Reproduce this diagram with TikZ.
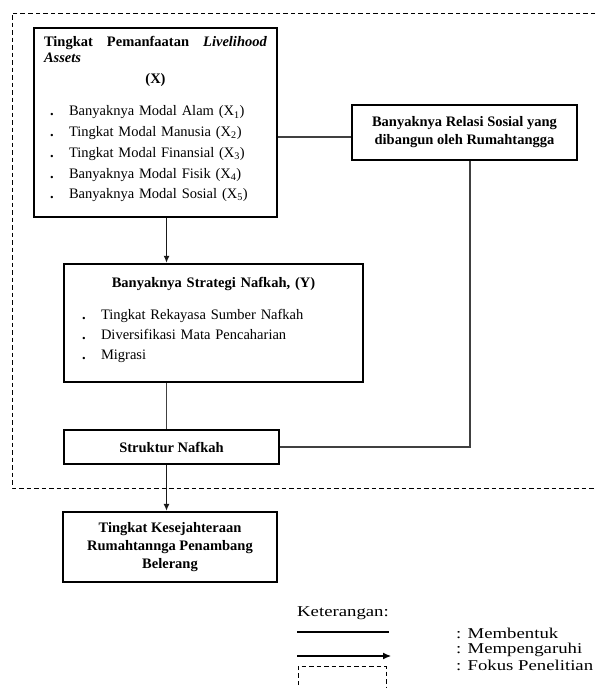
\documentclass[tikz,border=0pt]{standalone}
\usepackage{fontspec}
\setmainfont{Liberation Serif}
\newfontfamily\legendfont[FakeStretch=1.25]{Liberation Serif}
\usetikzlibrary{arrows.meta,positioning}
\setlength{\parindent}{0pt}

% one dotted entry inside a variable box
\newcommand{\butir}[2][6pt]{\par\hspace*{#1}\makebox[19pt][l]{\textbf{.}}#2}

\tikzset{
  varbox/.style={draw, line width=2.4pt, inner sep=0pt},
  boldtext/.style={align=center, font=\fontsize{14.5}{18}\selectfont\bfseries},
  link/.style={line width=1.2pt, black!75},
  arr/.style={line width=1.2pt, black!90, -{Latex[length=7pt,width=6pt]}},
  focus/.style={line width=1pt, dash pattern=on 4.5pt off 3pt},
  legendtext/.style={anchor=west, inner sep=0pt, font=\legendfont\fontsize{15}{15}\selectfont}
}

\begin{document}
\begin{tikzpicture}[x=1pt,y=-1pt,font=\fontsize{14.5}{18}\selectfont]
\useasboundingbox (0,0) rectangle (596,688);
\clip (0,0) rectangle (596,688);

% research focus
\draw[focus] (610,13) -| (12,488) -- (610,488);

\node[varbox, minimum width=243pt, minimum height=189pt, text width=223pt](x) at (155.5,122.5){%
\fontsize{14.5}{16}\selectfont
\textbf{Tingkat\hfill Pemanfaatan\hfill \textit{Livelihood}}\\
\textbf{\textit{Assets}}\par
\vspace{5pt}
{\centering\textbf{(X)}\par}
\vspace{12pt}
\fontsize{14.5}{20.7}\selectfont
\butir{Banyaknya Modal Alam (X\textsubscript{1})}
\butir{Tingkat Modal Manusia (X\textsubscript{2})}
\butir{Tingkat Modal Finansial (X\textsubscript{3})}
\butir{Banyaknya Modal Fisik (X\textsubscript{4})}
\butir{Banyaknya Modal Sosial (X\textsubscript{5})}\par
\vspace{7pt}\hrule height 0pt};
\node[varbox, boldtext, minimum width=225pt, minimum height=55pt](relasi) at (464.5,132.5){Banyaknya Relasi Sosial yang\\dibangun oleh Rumahtangga};
\node[varbox, minimum width=299pt, minimum height=118pt, text width=279pt](y) at (213.5,323){%
{\centering\textbf{Banyaknya Strategi Nafkah, (Y)}\par}
\vspace{12pt}
\fontsize{14.5}{20}\selectfont
\butir[8pt]{Tingkat Rekayasa Sumber Nafkah}
\butir[8pt]{Diversifikasi Mata Pencaharian}
\butir[8pt]{Migrasi}\par
\vspace{7pt}\hrule height 0pt};
\node[varbox, boldtext, minimum width=215pt, minimum height=34pt](struktur) at (171.5,447){Struktur Nafkah};
\node[varbox, boldtext, minimum width=214pt, minimum height=70pt](sejahtera) at (170,547){Tingkat Kesejahteraan\\Rumahtannga Penambang\\Belerang};

\coordinate (spine) at (166.5,0);
\draw[arr] (x.south -| spine) -- (y.north -| spine);
\draw[link] (y.south -| spine) -- (struktur.north -| spine);
\draw[arr] (struktur.south -| spine) -- (sejahtera.north -| spine);
\draw[link] ([yshift=-4.5pt]relasi.west) -- ([yshift=-4.5pt]relasi.west -| x.east);
\draw[link] ([xshift=5.5pt]relasi.south) |- (struktur.east);

% legend
\node[legendtext](ket) at (297,613){Keterangan:};
\coordinate (solidA) at (297,632);
\coordinate (solidB) at (389,632);
\coordinate (arrA) at (297,656);
\coordinate (arrB) at (391,656);
\draw[line width=1.1pt] (solidA) -- (solidB);
\draw[line width=1.1pt, -{Latex[length=8pt,width=7pt]}] (arrA) -- (arrB);
\draw[focus] (298,700) |- (386,666) -- (386,700);
\node[legendtext](membentuk) at (456,633){: Membentuk};
\node[legendtext](pengaruh) at (456,650){: Mempengaruhi};
\node[legendtext](fokus) at (456,665){: Fokus Penelitian};
\end{tikzpicture}
\end{document}
